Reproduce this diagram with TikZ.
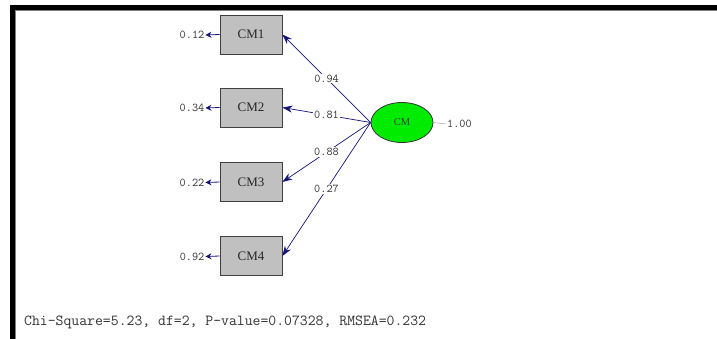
\documentclass[tikz,border=0pt]{standalone}
\usepackage{fontspec}
\setmainfont{Liberation Serif}
\usetikzlibrary{shapes.geometric,arrows.meta}
\definecolor{navyc}{RGB}{20,20,120}
\definecolor{boxgray}{RGB}{192,192,192}
\definecolor{greenc}{RGB}{0,235,0}
\definecolor{txtc}{RGB}{50,50,50}
\tikzset{
  ind/.style={draw=black!75,fill=boxgray,line width=0.8pt,minimum width=62pt,minimum height=39pt,inner sep=0pt,font=\fontsize{13}{13}\selectfont,text=black!85},
  lat/.style={ellipse,draw=black!80,fill=greenc,line width=0.8pt,minimum width=62pt,minimum height=40pt,inner sep=0pt,font=\fontsize{10.5}{10.5}\selectfont,text=black!75},
  num/.style={font=\ttfamily\fontsize{11.9}{11.9}\selectfont,text=txtc,inner sep=1pt},
  pathlab/.style={num,fill=white},
  load/.style={draw=navyc,line width=0.7pt,-{Stealth[length=10pt,width=7pt]}},
  err/.style={draw=navyc,line width=0.8pt,-{Stealth[length=6pt,width=6pt]}},
}
\begin{document}
\begin{tikzpicture}[x=1pt,y=-1pt]
\useasboundingbox (0,0) rectangle (717,339);
\fill[white] (0,0) rectangle (717,339);
% frame
\fill[black] (10,5) rectangle (717,10);
\fill[black] (10,5) rectangle (15,339);
\draw[gray,line width=0.6pt] (15,10.5) -- (717,10.5);
\draw[gray,line width=0.6pt] (15.5,10.5) -- (15.5,339);
% indicators
\node[ind] (cm1) at (251,34.5) {CM1};
\node[ind] (cm2) at (251,107.5) {CM2};
\node[ind] (cm3) at (251,182) {CM3};
\node[ind] (cm4) at (251,256) {CM4};
% latent
\node[lat] (cm) at (402,122.5) {CM};
% error labels
\node[num] (e1) at (192,35) {0.12};
\node[num] (e2) at (192,108) {0.34};
\node[num] (e3) at (192,182.5) {0.22};
\node[num] (e4) at (192,256.5) {0.92};
\foreach \i in {1,2,3,4}{\draw[err] (cm\i.west) -- (e\i.east);}
% loadings
\draw[load] (cm.west) -- node[pathlab] {0.94} (cm1.east);
\draw[load] (cm.west) -- node[pathlab] {0.81} (cm2.east);
\draw[load] (cm.west) -- node[pathlab] {0.88} (cm3.east);
\draw[load] (cm.west) -- node[pathlab] {0.27} (cm4.east);
% latent variance
\node[num,anchor=west] (v) at (446,124) {1.00};
\draw[gray!70,line width=0.5pt] (cm.east) -- (v.west);
% fit statistics
\node[anchor=base west,inner sep=0pt,font=\ttfamily\fontsize{15.3}{15.3}\selectfont,text=txtc] (fit) at (24,325) {Chi-Square=5.23, df=2, P-value=0.07328, RMSEA=0.232};
\end{tikzpicture}
\end{document}
